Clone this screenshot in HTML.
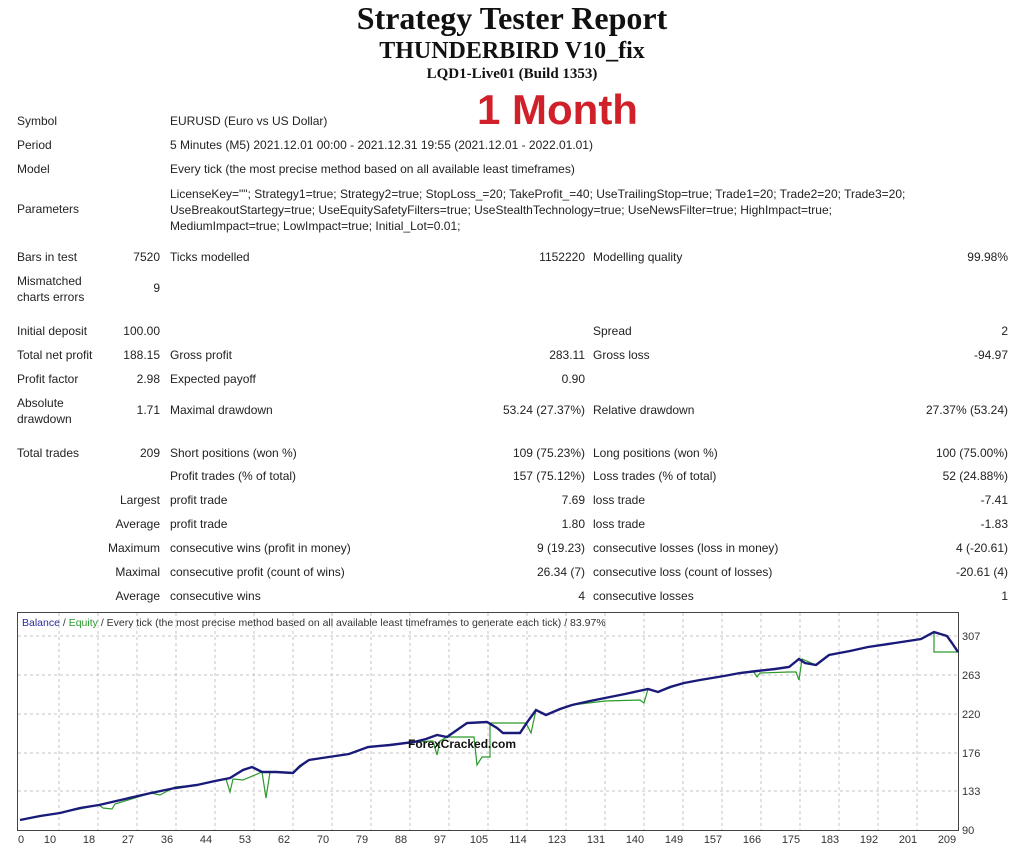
<!DOCTYPE html>
<html><head><meta charset="utf-8"><style>
body{margin:0;width:1024px;height:850px;background:#fff;overflow:hidden;position:relative;font-family:"Liberation Sans",sans-serif;font-size:12px;color:#222}
.a{position:absolute;white-space:nowrap}
.r{text-align:right}
.t{font-family:"Liberation Serif",serif;font-weight:bold;left:0;width:1024px;text-align:center;color:#111}
</style></head><body>
<div class="a t" style="top:0px;font-size:32px">Strategy Tester Report</div>
<div class="a t" style="top:38px;font-size:24px">THUNDERBIRD V10_fix</div>
<div class="a t" style="top:66px;font-size:15px">LQD1-Live01 (Build 1353)</div>
<div class="a" style="left:477px;top:86px;font-size:42px;font-weight:bold;color:#d0202a">1 Month</div>

<div class="a" style="left:17px;top:114px">Symbol</div><div class="a" style="left:170px;top:114px">EURUSD (Euro vs US Dollar)</div>
<div class="a" style="left:17px;top:138px">Period</div><div class="a" style="left:170px;top:138px">5 Minutes (M5) 2021.12.01 00:00 - 2021.12.31 19:55 (2021.12.01 - 2022.01.01)</div>
<div class="a" style="left:17px;top:162px">Model</div><div class="a" style="left:170px;top:162px">Every tick (the most precise method based on all available least timeframes)</div>
<div class="a" style="left:17px;top:202px">Parameters</div>
<div class="a" style="left:170px;top:186px;line-height:16px">LicenseKey=""; Strategy1=true; Strategy2=true; StopLoss_=20; TakeProfit_=40; UseTrailingStop=true; Trade1=20; Trade2=20; Trade3=20;<br>UseBreakoutStartegy=true; UseEquitySafetyFilters=true; UseStealthTechnology=true; UseNewsFilter=true; HighImpact=true;<br>MediumImpact=true; LowImpact=true; Initial_Lot=0.01;</div>

<div class="a" style="left:17px;top:250px">Bars in test</div><div class="a r" style="left:60px;width:100px;top:250px">7520</div>
<div class="a" style="left:170px;top:250px">Ticks modelled</div><div class="a r" style="left:385px;width:200px;top:250px">1152220</div>
<div class="a" style="left:593px;top:250px">Modelling quality</div><div class="a r" style="left:808px;width:200px;top:250px">99.98%</div>
<div class="a" style="left:17px;top:273px;line-height:16px">Mismatched<br>charts errors</div><div class="a r" style="left:60px;width:100px;top:281px">9</div>

<div class="a" style="left:17px;top:324px">Initial deposit</div><div class="a r" style="left:60px;width:100px;top:324px">100.00</div>
<div class="a" style="left:593px;top:324px">Spread</div><div class="a r" style="left:808px;width:200px;top:324px">2</div>
<div class="a" style="left:17px;top:348px">Total net profit</div><div class="a r" style="left:60px;width:100px;top:348px">188.15</div>
<div class="a" style="left:170px;top:348px">Gross profit</div><div class="a r" style="left:385px;width:200px;top:348px">283.11</div>
<div class="a" style="left:593px;top:348px">Gross loss</div><div class="a r" style="left:808px;width:200px;top:348px">-94.97</div>
<div class="a" style="left:17px;top:372px">Profit factor</div><div class="a r" style="left:60px;width:100px;top:372px">2.98</div>
<div class="a" style="left:170px;top:372px">Expected payoff</div><div class="a r" style="left:385px;width:200px;top:372px">0.90</div>
<div class="a" style="left:17px;top:395px;line-height:16px">Absolute<br>drawdown</div><div class="a r" style="left:60px;width:100px;top:403px">1.71</div>
<div class="a" style="left:170px;top:403px">Maximal drawdown</div><div class="a r" style="left:385px;width:200px;top:403px">53.24 (27.37%)</div>
<div class="a" style="left:593px;top:403px">Relative drawdown</div><div class="a r" style="left:808px;width:200px;top:403px">27.37% (53.24)</div>

<div class="a" style="left:17px;top:446px">Total trades</div><div class="a r" style="left:60px;width:100px;top:446px">209</div>
<div class="a" style="left:170px;top:446px">Short positions (won %)</div><div class="a r" style="left:385px;width:200px;top:446px">109 (75.23%)</div>
<div class="a" style="left:593px;top:446px">Long positions (won %)</div><div class="a r" style="left:808px;width:200px;top:446px">100 (75.00%)</div>
<div class="a" style="left:170px;top:469px">Profit trades (% of total)</div><div class="a r" style="left:385px;width:200px;top:469px">157 (75.12%)</div>
<div class="a" style="left:593px;top:469px">Loss trades (% of total)</div><div class="a r" style="left:808px;width:200px;top:469px">52 (24.88%)</div>
<div class="a r" style="left:20px;width:140px;top:493px">Largest</div><div class="a" style="left:170px;top:493px">profit trade</div><div class="a r" style="left:385px;width:200px;top:493px">7.69</div>
<div class="a" style="left:593px;top:493px">loss trade</div><div class="a r" style="left:808px;width:200px;top:493px">-7.41</div>
<div class="a r" style="left:20px;width:140px;top:517px">Average</div><div class="a" style="left:170px;top:517px">profit trade</div><div class="a r" style="left:385px;width:200px;top:517px">1.80</div>
<div class="a" style="left:593px;top:517px">loss trade</div><div class="a r" style="left:808px;width:200px;top:517px">-1.83</div>
<div class="a r" style="left:20px;width:140px;top:541px">Maximum</div><div class="a" style="left:170px;top:541px">consecutive wins (profit in money)</div><div class="a r" style="left:385px;width:200px;top:541px">9 (19.23)</div>
<div class="a" style="left:593px;top:541px">consecutive losses (loss in money)</div><div class="a r" style="left:808px;width:200px;top:541px">4 (-20.61)</div>
<div class="a r" style="left:20px;width:140px;top:565px">Maximal</div><div class="a" style="left:170px;top:565px">consecutive profit (count of wins)</div><div class="a r" style="left:385px;width:200px;top:565px">26.34 (7)</div>
<div class="a" style="left:593px;top:565px">consecutive loss (count of losses)</div><div class="a r" style="left:808px;width:200px;top:565px">-20.61 (4)</div>
<div class="a r" style="left:20px;width:140px;top:589px">Average</div><div class="a" style="left:170px;top:589px">consecutive wins</div><div class="a r" style="left:385px;width:200px;top:589px">4</div>
<div class="a" style="left:593px;top:589px">consecutive losses</div><div class="a r" style="left:808px;width:200px;top:589px">1</div>

<svg class="a" style="left:0;top:0" width="1024" height="850">
<rect x="17.5" y="612.5" width="941" height="218" fill="#fff" stroke="#444"/>
<g stroke="#c4c4c4" stroke-dasharray="3,3">
<line x1="18" y1="636" x2="958" y2="636"/><line x1="18" y1="675" x2="958" y2="675"/><line x1="18" y1="714" x2="958" y2="714"/><line x1="18" y1="753" x2="958" y2="753"/><line x1="18" y1="791" x2="958" y2="791"/>
<line x1="59" y1="613" x2="59" y2="830"/><line x1="98" y1="613" x2="98" y2="830"/><line x1="137" y1="613" x2="137" y2="830"/><line x1="176" y1="613" x2="176" y2="830"/><line x1="215" y1="613" x2="215" y2="830"/><line x1="254" y1="613" x2="254" y2="830"/><line x1="293" y1="613" x2="293" y2="830"/><line x1="332" y1="613" x2="332" y2="830"/><line x1="371" y1="613" x2="371" y2="830"/><line x1="410" y1="613" x2="410" y2="830"/><line x1="449" y1="613" x2="449" y2="830"/><line x1="488" y1="613" x2="488" y2="830"/><line x1="527" y1="613" x2="527" y2="830"/><line x1="566" y1="613" x2="566" y2="830"/><line x1="605" y1="613" x2="605" y2="830"/><line x1="644" y1="613" x2="644" y2="830"/><line x1="683" y1="613" x2="683" y2="830"/><line x1="722" y1="613" x2="722" y2="830"/><line x1="761" y1="613" x2="761" y2="830"/><line x1="800" y1="613" x2="800" y2="830"/><line x1="839" y1="613" x2="839" y2="830"/><line x1="878" y1="613" x2="878" y2="830"/><line x1="917" y1="613" x2="917" y2="830"/>
</g>
<polyline fill="none" stroke="#2a9a2a" stroke-width="1.2" points="20,820 60,813 99,805 103,808 112,809 115,804 151,793 160,795 175,787 197,785 226,779 230,792 233,779 243,780 262,772 266,798 270,772 293,773 309,760 322,758 349,754 368,747 414,742 433,741 437,755 440,741 447,737 474,737 477,765 482,757 490,757 490,723 526,723 531,733 536,710 546,715 572,705 605,701 640,700 644,703 648,689 658,692 684,683 724,676 753,671 757,677 760,673 789,672 796,672 799,680 802,659 816,665 829,655 868,647 921,639 934,632 934,652 958,652"/>
<polyline fill="none" stroke="#1a1a7a" stroke-width="2.4" points="20,820 40,816 60,813 80,808 99,805 125,799 151,793 175,788 197,785 215,781 230,778 243,770 252,767 262,772 276,772 293,773 300,766 309,760 322,758 349,754 368,747 390,745 414,742 426,739 437,735 447,737 457,730 467,723 487,722 497,728 503,733 520,733 528,721 536,710 546,715 560,709 572,705 590,701 605,698 625,694 648,689 658,692 670,687 684,683 700,680 724,676 740,673 757,671 775,669 789,667 799,659 805,663 816,665 829,655 850,651 868,647 895,643 921,639 934,632 947,636 952,643 958,652"/>
<text x="408" y="748" font-family="Liberation Sans" font-weight="bold" font-size="12" fill="#111">ForexCracked.com</text>
<text x="22" y="626" font-family="Liberation Sans" font-size="10.5"><tspan fill="#2a2a9a">Balance</tspan><tspan fill="#333"> / </tspan><tspan fill="#2a9a2a">Equity</tspan><tspan fill="#333"> / Every tick (the most precise method based on all available least timeframes to generate each tick) / 83.97%</tspan></text>
<g font-family="Liberation Sans" font-size="11" fill="#333">
<text x="962" y="640">307</text><text x="962" y="679">263</text><text x="962" y="718">220</text><text x="962" y="757">176</text><text x="962" y="795">133</text><text x="962" y="834">90</text>
</g>
<g font-family="Liberation Sans" font-size="11" fill="#333" text-anchor="middle">
<text x="21" y="843">0</text><text x="50" y="843">10</text><text x="89" y="843">18</text><text x="128" y="843">27</text><text x="167" y="843">36</text><text x="206" y="843">44</text><text x="245" y="843">53</text><text x="284" y="843">62</text><text x="323" y="843">70</text><text x="362" y="843">79</text><text x="401" y="843">88</text><text x="440" y="843">97</text><text x="479" y="843">105</text><text x="518" y="843">114</text><text x="557" y="843">123</text><text x="596" y="843">131</text><text x="635" y="843">140</text><text x="674" y="843">149</text><text x="713" y="843">157</text><text x="752" y="843">166</text><text x="791" y="843">175</text><text x="830" y="843">183</text><text x="869" y="843">192</text><text x="908" y="843">201</text><text x="947" y="843">209</text>
</g>
</svg>
</body></html>
